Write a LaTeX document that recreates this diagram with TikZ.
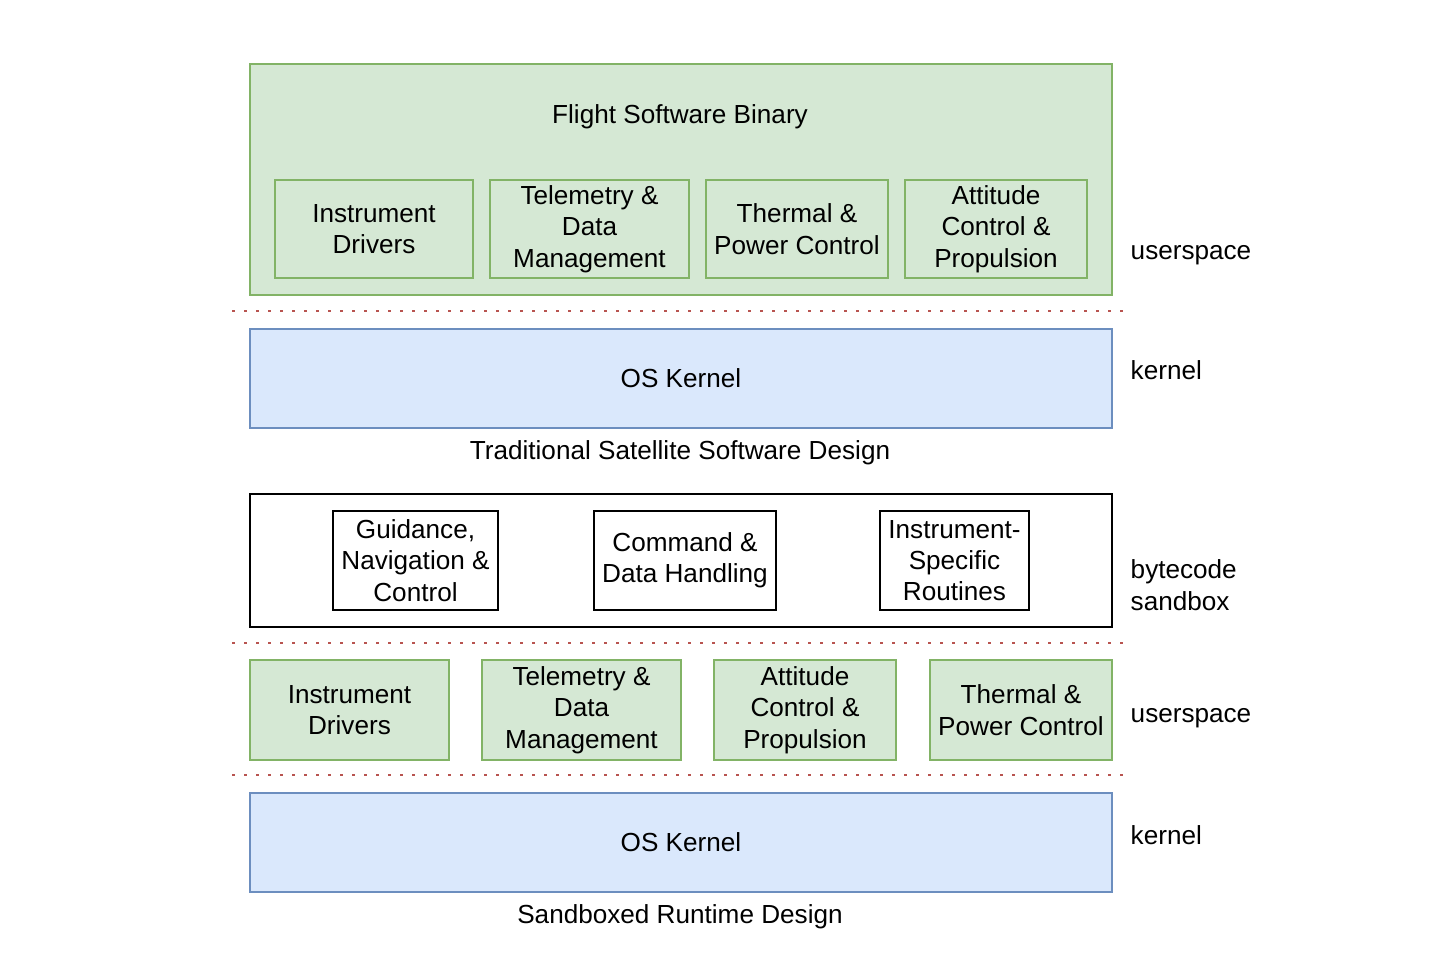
\documentclass[tikz,border=0pt]{standalone}
\usepackage{fontspec}
\setmainfont{Liberation Sans}
\definecolor{greenFill}{HTML}{D5E8D4}
\definecolor{greenLine}{HTML}{82B366}
\definecolor{blueFill}{HTML}{DAE8FC}
\definecolor{blueLine}{HTML}{6C8EBF}
\definecolor{sepRed}{HTML}{B85450}
\tikzset{
  greenbox/.style={draw=greenLine,fill=greenFill,line width=1.2pt,align=center,inner sep=0pt},
  bluebox/.style={draw=blueLine,fill=blueFill,line width=1.2pt,align=center,inner sep=0pt},
  plainbox/.style={draw=black,fill=white,line width=1.2pt,align=center,inner sep=0pt},
  sep/.style={sepRed,line width=2pt,dash pattern=on 2pt off 7pt},
  side/.style={anchor=west,align=left}
}
\begin{document}
\begin{tikzpicture}[x=0.75pt,y=-0.75pt,font=\fontsize{19.6}{23.5}\selectfont]
    \useasboundingbox (0,0) rectangle (1454,978);

    % traditional design
    \node[greenbox,minimum width=862*0.75pt,minimum height=231*0.75pt] (fsw) at (681,179.5) {};
    \node (fswTitle) at (680,117) {Flight Software Binary};
    \node[greenbox,minimum width=198*0.75pt,minimum height=98*0.75pt] (drvA) at (374,229) {Instrument\\Drivers};
    \node[greenbox,minimum width=199*0.75pt,minimum height=98*0.75pt] (tlmA) at (589.5,229) {Telemetry \&\\Data\\Management};
    \node[greenbox,minimum width=182*0.75pt,minimum height=98*0.75pt] (thmA) at (797,229) {Thermal \&\\Power Control};
    \node[greenbox,minimum width=182*0.75pt,minimum height=98*0.75pt] (acsA) at (996,229) {Attitude\\Control \&\\Propulsion};
    \draw[sep] (232,311) -- (1125,311);
    \node[bluebox,minimum width=862*0.75pt,minimum height=99*0.75pt] (kernA) at (681,378.5) {OS Kernel};
    \node (capA) at (680,453) {Traditional Satellite Software Design};

    % sandboxed design
    \node[plainbox,minimum width=862*0.75pt,minimum height=133*0.75pt] (sbox) at (681,560.5) {};
    \node[plainbox,minimum width=165*0.75pt,minimum height=99*0.75pt] (gnc) at (415.5,560.5) {Guidance,\\Navigation \&\\Control};
    \node[plainbox,minimum width=182*0.75pt,minimum height=99*0.75pt] (cdh) at (685,560.5) {Command \&\\Data Handling};
    \node[plainbox,minimum width=149*0.75pt,minimum height=99*0.75pt] (isr) at (954.5,560.5) {Instrument-\\Specific\\Routines};
    \draw[sep] (232,643) -- (1125,643);
    \node[greenbox,minimum width=199*0.75pt,minimum height=100*0.75pt] (drvB) at (349.5,710) {Instrument\\Drivers};
    \node[greenbox,minimum width=199*0.75pt,minimum height=100*0.75pt] (tlmB) at (581.5,710) {Telemetry \&\\Data\\Management};
    \node[greenbox,minimum width=182*0.75pt,minimum height=100*0.75pt] (acsB) at (805,710) {Attitude\\Control \&\\Propulsion};
    \node[greenbox,minimum width=182*0.75pt,minimum height=100*0.75pt] (thmB) at (1021,710) {Thermal \&\\Power Control};
    \draw[sep] (232,775) -- (1125,775);
    \node[bluebox,minimum width=862*0.75pt,minimum height=99*0.75pt] (kernB) at (681,842.5) {OS Kernel};
    \node (capB) at (680,917) {Sandboxed Runtime Design};

    % layer labels
    \node[side] (lblUserA) at (1126,255) {userspace};
    \node[side] (lblKernA) at (1126,370) {kernel};
    \node[side] (lblSbox) at (1126,585) {bytecode\\sandbox};
    \node[side] (lblUserB) at (1126,718) {userspace};
    \node[side] (lblKernB) at (1126,835) {kernel};
\end{tikzpicture}
\end{document}
